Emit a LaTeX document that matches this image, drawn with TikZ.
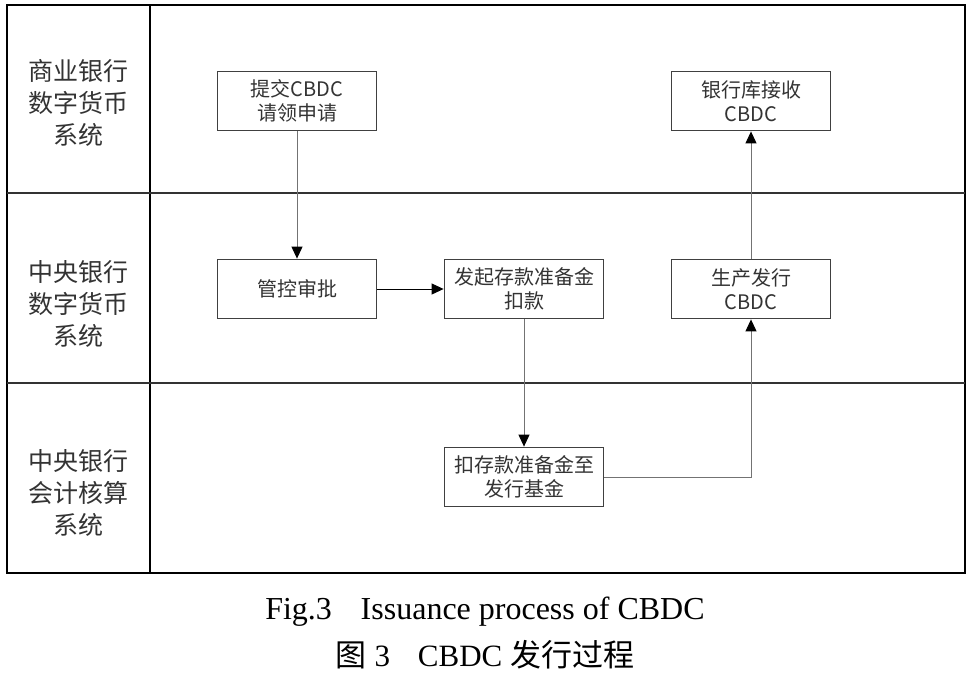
\documentclass[tikz,border=0pt]{standalone}
\usepackage{fontspec}
\setmainfont{Liberation Serif}
\newfontfamily\cjk{Noto Sans CJK SC}
\usepackage{tikz}
\usetikzlibrary{arrows.meta, positioning}

\tikzset{
  proc/.style={draw=black!75, line width=1.8pt, minimum width=159pt, minimum height=59pt,
    inner sep=0pt, align=center, font=\cjk\fontsize{20}{24}\selectfont, text=black!80},
  lane/.style={align=center, font=\cjk\fontsize{25}{32}\selectfont, text=black!80},
  flow/.style={draw=black!55, line width=1pt, -{Triangle[length=12pt, width=11pt, color=black]}}
}

\begin{document}
\begin{tikzpicture}[x=1pt, y=-1pt, node distance=227pt and 188pt, on grid]
        \useasboundingbox (0,0) rectangle (972,678);

        % swim lanes
        \draw[line width=1.8pt] (7,5) rectangle (965,573);
        \draw[line width=1.6pt] (150,5) -- (150,573);
        \draw[line width=1.6pt, draw=black!80] (7,193) -- (965,193);
        \draw[line width=1.6pt, draw=black!80] (7,383) -- (965,383);

        \node[lane] (l1) at (78,103) {商业银行\\数字货币\\系统};
        \node[lane] (l2) at (78,304) {中央银行\\数字货币\\系统};
        \node[lane] (l3) at (78,493) {中央银行\\会计核算\\系统};

        % process boxes
        \node[proc] (apply)  at (297,101)        {提交CBDC\\请领申请};
        \node[proc] (check)  [below=188pt of apply] {管控审批};
        \node[proc] (debit)  [right=227pt of check] {发起存款准备金\\扣款};
        \node[proc] (fund)   [below=188pt of debit] {扣存款准备金至\\发行基金};
        \node[proc] (issue)  [right=227pt of debit] {生产发行\\CBDC};
        \node[proc] (recv)   [above=188pt of issue] {银行库接收\\CBDC};

        \path[flow]
        (apply) edge (check)
        (debit) edge (fund)
        (issue) edge (recv);
        \path[flow, draw=black] (check) edge (debit);
        \draw[flow] (fund) -| (issue);

        % caption
        \node (cap1) at (485,612) {\fontsize{32}{36}\selectfont Fig.3\hspace{0.9em}Issuance process of CBDC};
        \node (cap2) at (485,655) {\fontsize{31}{36}\selectfont {\cjk 图} 3\hspace{0.9em}CBDC {\cjk 发行过程}};
\end{tikzpicture}
\end{document}
